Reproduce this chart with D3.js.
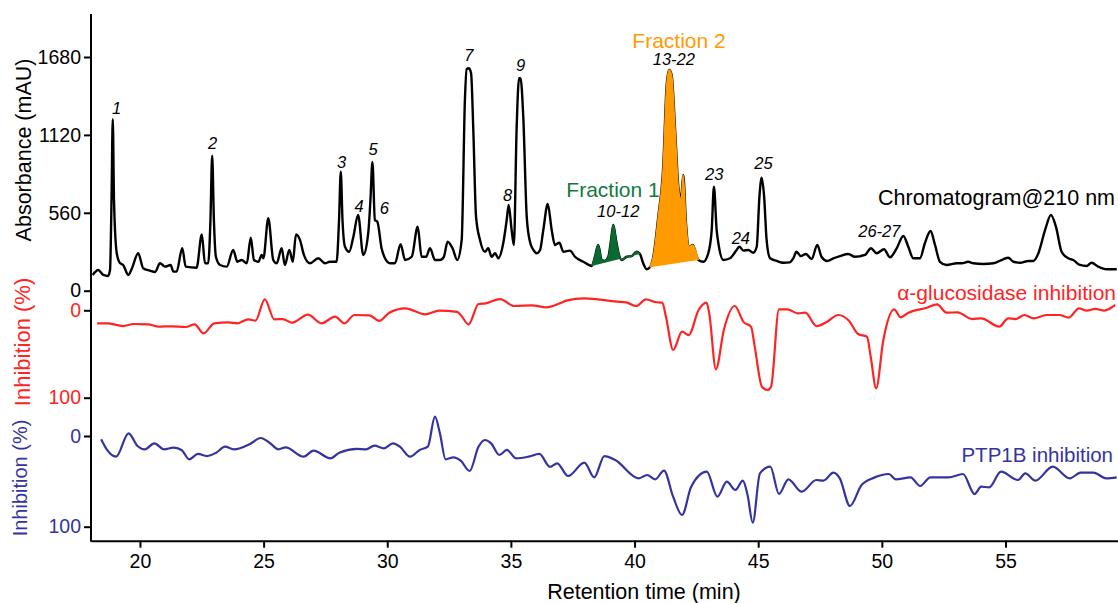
<!DOCTYPE html>
<html>
<head>
<meta charset="utf-8">
<script src="https://cdn.jsdelivr.net/npm/d3@7"></script>
<style>
    body { margin: 0; background: #fff; }
    svg { display: block; font-family: "Liberation Sans", Arial, sans-serif; }
</style>
</head>
<body>
<svg id="chart" width="1118" height="603"></svg>
<script>
// chromatogram @210 nm: [retention time (min), absorbance (mAU)]
var chromatogram = [
    [18.09,113],[18.31,149],[18.52,113],[18.71,106],[18.79,149],[18.85,652],[18.90,1232],[18.95,652],
    [19.06,271],[19.19,199],[19.32,185],[19.53,113],[19.66,154],[19.93,269],[20.13,161],[20.40,144],
    [20.61,134],[20.81,197],[21.01,173],[21.24,185],[21.35,137],[21.48,137],[21.71,305],[21.85,173],
    [22.29,165],[22.50,405],[22.63,197],[22.76,197],[22.85,508],[22.92,971],[22.99,508],[23.07,244],
    [23.24,185],[23.51,173],[23.77,293],[23.94,208],[24.11,221],[24.32,197],[24.48,381],[24.61,221],
    [24.79,208],[24.92,257],[24.99,233],[25.19,521],[25.39,221],[25.53,197],[25.73,305],[25.86,185],
    [26.04,293],[26.18,208],[26.31,405],[26.47,365],[26.63,257],[26.87,197],[27.21,233],[27.48,197],
    [27.68,208],[27.95,208],[28.05,508],[28.12,856],[28.19,508],[28.29,316],[28.46,280],[28.63,388],
    [28.82,544],[29.03,257],[29.23,413],[29.32,652],[29.40,925],[29.50,508],[29.60,496],[29.77,305],
    [29.91,233],[30.11,197],[30.31,197],[30.54,334],[30.72,221],[30.99,244],[31.23,460],[31.39,244],
    [31.57,244],[31.73,305],[31.93,221],[32.13,221],[32.29,244],[32.44,352],[32.64,305],[32.83,221],
    [33.01,365],[33.14,1371],[33.21,1592],[33.30,1599],[33.39,1563],[33.48,1155],[33.59,532],[33.75,365],
    [33.95,280],[34.08,305],[34.22,244],[34.36,269],[34.49,233],[34.69,341],[34.83,508],[34.91,616],
    [35.03,436],[35.12,329],[35.23,1155],[35.33,1527],[35.39,1527],[35.50,1251],[35.64,532],[35.77,352],
    [35.91,293],[36.04,269],[36.18,293],[36.31,436],[36.49,623],[36.65,436],[36.78,329],[36.96,345],
    [37.12,280],[37.39,288],[37.59,244],[37.93,208],[38.27,178],[38.40,244],[38.53,329],[38.67,221],
    [38.80,214],[38.94,244],[39.05,365],[39.14,472],[39.25,365],[39.34,280],[39.48,221],[39.68,244],
    [39.88,249],[40.08,280],[40.22,264],[40.35,197],[40.49,154],[40.62,168],[40.76,244],[40.96,532],
    [41.16,891],[41.30,1479],[41.40,1587],[41.50,1551],[41.64,1155],[41.77,748],[41.88,652],[41.97,832],
    [42.08,485],[42.21,316],[42.35,329],[42.58,221],[42.78,208],[42.98,269],[43.12,436],[43.21,748],
    [43.32,436],[43.39,341],[43.59,221],[43.86,233],[44.13,293],[44.24,316],[44.40,288],[44.60,293],
    [44.80,273],[44.94,316],[45.05,676],[45.14,812],[45.24,676],[45.34,365],[45.48,233],[45.75,214],
    [46.01,201],[46.28,204],[46.42,233],[46.55,280],[46.72,249],[46.93,264],[47.16,228],[47.39,329],
    [47.56,244],[47.79,214],[48.04,233],[48.31,249],[48.64,264],[48.91,244],[49.32,257],[49.56,305],
    [49.79,269],[50.09,298],[50.33,240],[50.60,305],[50.87,393],[51.07,316],[51.27,233],[51.54,233],
    [51.74,341],[51.97,429],[52.15,329],[52.35,208],[52.62,185],[53.03,197],[53.23,197],[53.49,208],
    [53.70,197],[54.10,192],[54.51,197],[54.91,226],[55.11,237],[55.32,208],[55.59,201],[55.92,214],
    [56.13,214],[56.33,269],[56.60,436],[56.84,544],[57.04,460],[57.27,280],[57.54,233],[57.74,221],
    [58.01,185],[58.28,178],[58.48,201],[58.75,173],[59.09,154],[59.50,154]
];

// alpha-glucosidase inhibition (%): [time, inhibition]
var alphaGlucosidase = [
    [18.27,14.9],[18.67,14.9],[19.32,18],[19.75,15.7],[20.33,16.1],[20.76,18.7],[21.27,18.3],[21.85,19.1],
    [22.21,16.1],[22.57,26.4],[23.00,14.9],[23.58,13.8],[23.94,14.9],[24.38,10.3],[24.67,11.9],[25.05,-12.6],
    [25.43,10.3],[25.78,10],[26.15,14.2],[26.79,5],[27.34,14.9],[27.89,7.3],[28.27,14.9],[28.67,5.4],
    [29.28,5.8],[29.68,12.2],[30.08,2.7],[30.73,-2.3],[31.53,4.6],[32.10,0.4],[32.82,1.9],[32.97,5.4],
    [33.29,16.1],[33.69,-7.2],[33.98,-8],[34.56,-12.9],[35.14,-4.9],[35.86,-5.7],[36.43,-3.4],[36.98,-8],
    [37.24,-11],[37.97,-13.7],[39.29,-9.9],[39.66,-9.1],[40.07,-4.9],[40.46,-12.6],[40.83,-9.5],[41.12,-8.7],
    [41.27,7.3],[41.56,45.4],[41.92,24.4],[42.19,28.3],[42.59,-0.3],[42.91,-8.7],[43.02,3.5],[43.29,67.5],
    [43.61,22.5],[44.05,-4.9],[44.42,13.8],[44.71,18.7],[44.86,41.6],[45.15,87.4],[45.37,91.2],[45.52,87.4],
    [45.84,-1.1],[46.18,-1.1],[46.61,3.5],[46.91,2.7],[47.35,18],[47.79,13],[48.23,5.4],[48.67,11.9],
    [49.04,27.1],[49.40,30.2],[49.55,53.1],[49.77,89.3],[50.06,34],[50.50,-1.1],[50.76,8],[51.08,2.7],
    [51.82,-3],[52.23,-6.8],[52.62,2.7],[53.06,2.3],[53.65,10],[54.02,9.2],[54.75,18.7],[55.11,9.2],
    [55.41,10],[55.77,5.4],[56.14,9.2],[56.65,5.4],[57.17,5.4],[57.56,8.4],[57.97,-2.3],[58.29,0.4],
    [58.63,-1.6],[58.99,0.4],[59.44,-6.1]
];

// PTP1B inhibition (%): [time, inhibition]
var ptp1b = [
    [18.43,3.7],[18.67,15.4],[19.03,22.8],[19.54,-2.9],[19.90,11],[20.19,14.7],[20.58,8.1],[20.98,14.7],
    [21.34,12.9],[21.68,15.4],[21.99,25.7],[22.35,19.8],[22.71,22.1],[23.08,18.4],[23.44,11.8],[23.80,14.7],
    [24.45,8.8],[24.88,2.2],[25.24,7.4],[25.60,14.7],[25.89,12.5],[26.62,22.8],[27.02,16.2],[27.70,24.6],
    [28.06,18.4],[28.78,14.3],[29.14,14.7],[29.48,10.7],[29.86,13.6],[30.23,8.1],[30.51,11.8],[30.92,22.8],
    [31.31,15.4],[31.64,11.8],[31.93,-21.3],[32.13,-2.9],[32.36,25.7],[32.68,23.5],[32.97,27.2],[33.33,38.6],
    [33.69,11.8],[33.95,4.4],[34.20,8.1],[34.53,20.9],[34.84,15.4],[35.21,24.6],[35.71,22.8],[36.15,19.8],
    [36.58,34],[36.87,30.1],[37.31,44.1],[37.97,29.4],[38.37,45.6],[38.78,22.1],[39.22,26.5],[40.17,46.7],
    [40.51,43],[40.83,47.8],[41.19,38.2],[41.56,66.9],[41.92,87.1],[42.29,55.9],[42.92,39.3],[43.35,66.9],
    [43.73,50.3],[44.08,59.5],[44.38,49.2],[44.57,65],[44.78,95.6],[45.07,41.2],[45.49,33.8],[45.84,63.9],
    [46.22,47.8],[46.76,61.4],[47.35,48.5],[47.64,49.2],[48.04,40.4],[48.30,46.7],[48.71,77.2],[49.18,54],
    [49.69,45.9],[50.28,41.9],[50.57,47.8],[51.16,45.6],[51.55,55.1],[51.96,45.6],[52.70,45.6],[53.28,41.9],
    [53.75,63.9],[54.02,55.9],[54.34,56.6],[54.82,39.3],[55.51,48.5],[55.80,41.2],[56.21,49.2],[56.91,33.8],
    [57.60,46.7],[58.04,40.4],[58.56,40.4],[59.07,46.7],[59.50,45.6]
];

var timeTicks = [20, 25, 30, 35, 40, 45, 50, 55];
var absorbanceTicks = [0, 560, 1120, 1680];
var inhibitionTicks = [0, 100];

// collected fractions (start, end retention time)
var fraction1 = [38.27, 40.22];
var fraction2 = [40.62, 42.62];

// peak numbering, placed at (time, mAU)
var peakNames = ['1', '2', '3', '4', '5', '6', '7', '8', '9', '10-12', '13-22', '23', '24', '25', '26-27'];
var peakTimes = [19.06, 22.94, 28.15, 28.86, 29.43, 29.88, 33.30, 34.87, 35.39, 39.34, 41.59, 43.22, 44.30, 45.21, 49.90];
var peakHeights = [1313, 1062, 920, 604, 1017, 595, 1694, 688, 1623, 568, 1664, 839, 379, 916, 424];

var BLACK = '#000000',
    RED = '#ff2424',
    BLUE = '#3434a0',
    GREEN = '#0b6a30',
    GREEN_TEXT = '#127a3e',
    ORANGE = '#ff9a00';

var svg = d3.select('#chart');

var x = d3.scaleLinear().domain([18.02, 59.55]).range([91, 1118]);
var yAbs = d3.scaleLinear().domain([0, 1680]).range([290.7, 57]);
var yAlpha = d3.scaleLinear().domain([0, 100]).range([310.3, 397.7]);
var yPtp = d3.scaleLinear().domain([0, 100]).range([436, 526.7]);

function makeLine(yScale) {
    return d3.line()
        .x(function (d) { return x(d[0]); })
        .y(function (d) { return yScale(d[1]); })
        .curve(d3.curveMonotoneX);
}

function drawTrace(data, yScale, color, width) {
    svg.append('path')
        .datum(data)
        .attr('d', makeLine(yScale))
        .attr('fill', 'none')
        .attr('stroke', color)
        .attr('stroke-width', width)
        .attr('stroke-linejoin', 'round');
}

function drawFraction(range, color) {
    var part = chromatogram.filter(function (d) { return d[0] >= range[0] && d[0] <= range[1]; });

    svg.append('path')
        .datum(part)
        .attr('d', makeLine(yAbs))
        .attr('fill', color)
        .attr('stroke', color)
        .attr('stroke-width', 1.5);
}

function drawLeftAxis(yScale, ticks, color) {
    var g = svg.append('g')
        .attr('transform', 'translate(91,0)')
        .call(d3.axisLeft(yScale).tickValues(ticks).tickSize(7).tickPadding(3).tickFormat(d3.format('d')));

    g.select('.domain').remove();
    g.selectAll('line').attr('stroke', BLACK).attr('stroke-width', 2);
    g.selectAll('text')
        .attr('fill', color)
        .attr('font-size', 19.5)
        .attr('font-family', '"Liberation Sans", Arial, sans-serif');
}

function addText(str, px, py, opts) {
    var t = svg.append('text')
        .attr('x', px)
        .attr('y', py)
        .attr('dy', '0.35em')
        .attr('fill', opts.color || BLACK)
        .attr('font-size', opts.size || 21)
        .attr('text-anchor', opts.anchor || 'middle')
        .text(str);

    if (opts.italic) {
        t.attr('font-style', 'italic');
    }
    if (opts.rotate) {
        t.attr('transform', 'rotate(-90,' + px + ',' + py + ')');
    }
    return t;
}

// traces
drawTrace(chromatogram, yAbs, BLACK, 2.4);
drawFraction(fraction1, GREEN);
drawFraction(fraction2, ORANGE);
drawTrace(alphaGlucosidase, yAlpha, RED, 2.2);
drawTrace(ptp1b, yPtp, BLUE, 2.2);

// axes
svg.append('line')
    .attr('x1', 91).attr('x2', 91)
    .attr('y1', 14).attr('y2', 541.7)
    .attr('stroke', BLACK)
    .attr('stroke-width', 2);

drawLeftAxis(yAbs, absorbanceTicks, BLACK);
drawLeftAxis(yAlpha, inhibitionTicks, RED);
drawLeftAxis(yPtp, inhibitionTicks, BLUE);

var xAxis = svg.append('g')
    .attr('transform', 'translate(0,540.7)')
    .call(d3.axisBottom(x).tickValues(timeTicks).tickSize(7).tickSizeOuter(0).tickPadding(6));

xAxis.select('.domain').attr('stroke-width', 2);
xAxis.selectAll('line').attr('stroke-width', 2);
xAxis.selectAll('text')
    .attr('font-size', 19.5)
    .attr('font-family', '"Liberation Sans", Arial, sans-serif');

// axis titles
addText('Absorbance (mAU)', 23, 150, { rotate: true, size: 21.5 });
addText('Inhibition (%)', 22, 342, { rotate: true, color: RED, size: 22 });
addText('Inhibition (%)', 20, 478, { rotate: true, color: BLUE, size: 20 });
addText('Retention time (min)', 644, 591, { size: 21.5 });

// series labels
addText('Chromatogram@210 nm', 1115, yAbs(672), { anchor: 'end', size: 21.5 });
addText('\u03b1-glucosidase inhibition', 1116, 293, { anchor: 'end', color: RED });
addText('PTP1B inhibition', 1113, 455, { anchor: 'end', color: BLUE, size: 20.5 });

addText('Fraction 1', x(39.13), yAbs(724), { color: GREEN_TEXT });
addText('Fraction 2', x(41.80), yAbs(1797), { color: ORANGE });

// peak numbers
peakNames.forEach(function (name, i) {
    addText(name, x(peakTimes[i]), yAbs(peakHeights[i]), { italic: true, size: 16.5 });
});
</script>
</body>
</html>
